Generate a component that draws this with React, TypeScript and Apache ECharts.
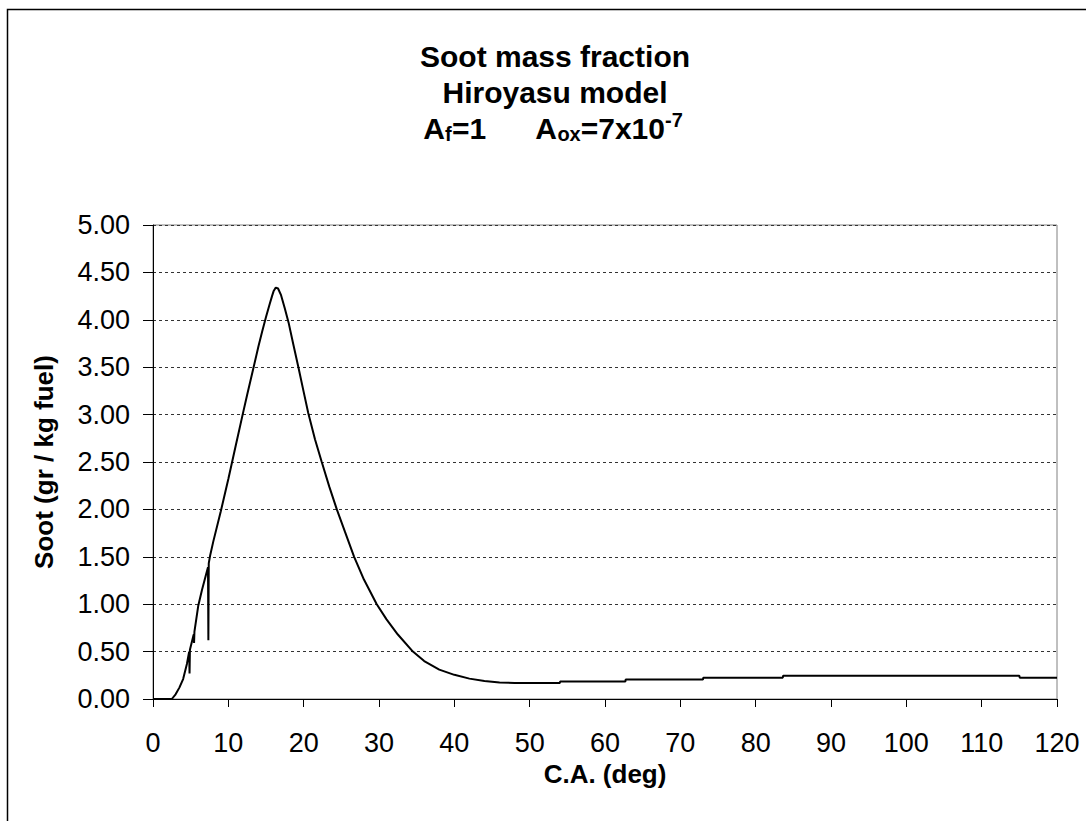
import React, { useEffect, useRef } from "react";
import * as echarts from "echarts";

const caDeg = [0, 2.5, 3.0, 3.5, 4.0, 4.5, 4.8, 4.85, 4.9, 5.4, 5.45, 5.5, 6.0, 6.5, 7.0, 7.3, 7.35, 7.4, 7.6, 8.0, 9.0, 10.0, 10.5, 11.0, 11.9, 12.5, 13.3, 14.0, 14.5, 15.0, 15.5, 15.8, 16.0, 16.3, 16.6, 17.0, 17.5, 18.0, 18.6, 19.3, 20.0, 20.6, 21.5, 22.4, 23.4, 24.4, 25.5, 26.7, 28.0, 29.7, 31.0, 32.5, 34.5, 36.0, 38.0, 40.0, 42.0, 44.0, 46.0, 48.0, 54.0, 54.05, 62.7, 62.75, 73.0, 73.05, 83.6, 83.65, 115.0, 115.05, 120];
const sootValues = [0, 0, 0.05, 0.12, 0.21, 0.37, 0.5, 0.27, 0.52, 0.68, 0.59, 0.71, 0.98, 1.15, 1.30, 1.39, 0.62, 1.43, 1.52, 1.66, 1.98, 2.32, 2.50, 2.68, 3.00, 3.21, 3.48, 3.72, 3.88, 4.03, 4.17, 4.25, 4.30, 4.34, 4.33, 4.26, 4.12, 3.97, 3.75, 3.50, 3.24, 3.02, 2.74, 2.50, 2.24, 2.00, 1.76, 1.50, 1.26, 1.00, 0.84, 0.68, 0.50, 0.40, 0.31, 0.255, 0.215, 0.19, 0.175, 0.17, 0.17, 0.185, 0.185, 0.205, 0.205, 0.225, 0.225, 0.245, 0.245, 0.225, 0.225];

const titleLine1 = "Soot mass fraction";
const titleLine2 = "Hiroyasu model";
const xAxisTitle = "C.A. (deg)";
const yAxisTitle = "Soot (gr / kg fuel)";

const FONT = "'Liberation Sans', Arial, Helvetica, sans-serif";

export default function App() {
  const ref = useRef<HTMLDivElement>(null);
  useEffect(() => {
    if (!ref.current) return;
    const chart = echarts.init(ref.current, null, { renderer: "svg" });
    const data = caDeg.map((d, i) => [d, sootValues[i]]);
    const t = (x: number, y: number, text: string, size: number, align = "left") => ({
      type: "text",
      x,
      y,
      style: { text, fontFamily: FONT, fontSize: size, fontWeight: "bold", fill: "#000", align, verticalAlign: "middle" },
    });
    chart.setOption({
      animation: false,
      backgroundColor: "#fff",
      grid: { left: 153, right: 29, top: 225, bottom: 122, show: true, borderColor: "#808080", borderWidth: 1 },
      xAxis: {
        type: "value",
        min: 0,
        max: 120,
        interval: 10,
        axisLine: { show: true, onZero: false, lineStyle: { color: "#000", width: 1 } },
        axisTick: { show: true, length: 8, lineStyle: { color: "#000" } },
        axisLabel: { fontFamily: FONT, fontSize: 27, color: "#000", margin: 30 },
        splitLine: { show: false },
      },
      yAxis: {
        type: "value",
        min: 0,
        max: 5,
        interval: 0.5,
        axisLine: { show: true, lineStyle: { color: "#000", width: 1 } },
        axisTick: { show: true, length: 10, lineStyle: { color: "#000" } },
        axisLabel: { fontFamily: FONT, fontSize: 27, color: "#000", margin: 23, formatter: (v: number) => v.toFixed(2) },
        splitLine: { show: true, lineStyle: { color: "#333", type: [3, 3], width: 1 } },
      },
      series: [
        {
          type: "line",
          data,
          showSymbol: false,
          symbol: "none",
          lineStyle: { color: "#000", width: 2 },
          z: 3,
        },
      ],
      graphic: [
        { type: "rect", shape: { x: 7.5, y: 9.5, width: 1200, height: 1000 }, style: { fill: "none", stroke: "#000", lineWidth: 1.5 }, silent: true },
        t(555, 56, titleLine1, 30, "center"),
        t(555, 92, titleLine2, 30, "center"),
        {
          type: "text",
          x: 553,
          y: 128,
          style: {
            text: "{a|A}{s|f}{a|=1      A}{s|ox}{a|=7x10}{p|-7}",
            align: "center",
            verticalAlign: "middle",
            fontFamily: FONT,
            fontWeight: "bold",
            fill: "#000",
            rich: {
              a: { fontFamily: FONT, fontSize: 30, fontWeight: "bold", fill: "#000", lineHeight: 40, verticalAlign: "middle" },
              s: { fontFamily: FONT, fontSize: 20, fontWeight: "bold", fill: "#000", lineHeight: 40, verticalAlign: "bottom", padding: [0, 0, 4, 0] },
              p: { fontFamily: FONT, fontSize: 20, fontWeight: "bold", fill: "#000", lineHeight: 40, verticalAlign: "top", padding: [2, 0, 0, 0] },
            },
          },
        },
        t(605, 774, xAxisTitle, 26, "center"),
        {
          type: "text",
          x: 44,
          y: 462,
          rotation: Math.PI / 2,
          style: { text: yAxisTitle, fontFamily: FONT, fontSize: 26, fontWeight: "bold", fill: "#000", align: "center", verticalAlign: "middle" },
        },
      ],
    });
    return () => chart.dispose();
  }, []);
  return <div ref={ref} style={{ position: "fixed", left: 0, top: 0, width: 1086, height: 821 }} />;
}
